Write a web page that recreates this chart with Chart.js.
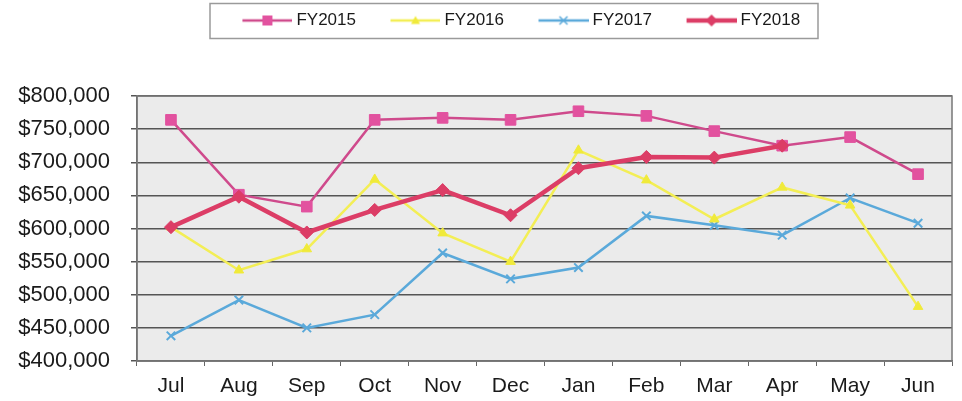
<!DOCTYPE html>
<html>
<head>
<meta charset="utf-8">
<script src="https://cdn.jsdelivr.net/npm/chart.js@4/dist/chart.umd.min.js"></script>
<style>
  html, body { margin: 0; padding: 0; background: #ffffff; }
  #wrap { width: 962px; height: 401px; position: relative; }
</style>
</head>
<body>
<div id="wrap"><canvas id="c" width="962" height="401"></canvas></div>
<script>
const months = ['Jul','Aug','Sep','Oct','Nov','Dec','Jan','Feb','Mar','Apr','May','Jun'];
const fy2015 = [764000, 651000, 633000, 764000, 767000, 764000, 777000, 770000, 747000, 725000, 738000, 682000];
const fy2016 = [602000, 537000, 569000, 674000, 593000, 550000, 718000, 673000, 614000, 662000, 635000, 482000];
const fy2017 = [438000, 492000, 450000, 470000, 563000, 524000, 541000, 619000, 605000, 590000, 646000, 608000];
const fy2018 = [602000, 648000, 594000, 628000, 658000, 620000, 691000, 708000, 707000, 725000, null, null];
const yMin = 400000, yMax = 800000, yStep = 50000;

const FONT = '"Liberation Sans", Arial, sans-serif';

function legendIcon(color, lineW, marker, fill) {
  const W = 77, H = 16;
  const cv = document.createElement('canvas');
  cv.width = W; cv.height = H;
  const g = cv.getContext('2d');
  const x0 = W - 50, cx = W - 25, cy = H / 2;
  g.strokeStyle = color; g.lineWidth = lineW;
  g.beginPath(); g.moveTo(x0, cy); g.lineTo(W, cy); g.stroke();
  g.fillStyle = fill; g.strokeStyle = color; g.lineWidth = 1.5;
  g.beginPath();
  if (marker === 'rect') { g.rect(cx - 5, cy - 5, 10, 10); g.fill(); }
  else if (marker === 'triangle') { g.moveTo(cx, cy - 4.5); g.lineTo(cx + 4.5, cy + 3.5); g.lineTo(cx - 4.5, cy + 3.5); g.closePath(); g.fill(); }
  else if (marker === 'cross') { g.moveTo(cx - 4, cy - 4); g.lineTo(cx + 4, cy + 4); g.moveTo(cx + 4, cy - 4); g.lineTo(cx - 4, cy + 4); g.stroke(); }
  else if (marker === 'diamond') { g.moveTo(cx, cy - 6); g.lineTo(cx + 6, cy); g.lineTo(cx, cy + 6); g.lineTo(cx - 6, cy); g.closePath(); g.fill(); }
  return cv;
}

const styles = [
  { label: 'FY2015', data: fy2015, color: '#cf4a8c', fill: '#e2529f', width: 2.5, pt: 'rect', r: 7.5, icon: 'rect', order: 1 },
  { label: 'FY2016', data: fy2016, color: '#f3ee55', fill: '#f0ea3a', width: 2.5, pt: 'triangle', r: 5.5, icon: 'triangle', order: 2 },
  { label: 'FY2017', data: fy2017, color: '#5aa9da', fill: '#5aa9da', width: 2.5, pt: 'crossRot', r: 6, icon: 'cross', order: 3 },
  { label: 'FY2018', data: fy2018, color: '#dc3d66', fill: '#dc3d66', width: 4.5, pt: 'rectRot', r: 6.5, icon: 'diamond', order: 0 }
];
const icons = styles.map(s => legendIcon(s.color, s.width, s.icon, s.fill));
const legendShift = 34;

const frame = {
  id: 'frame',
  beforeInit(chart) {
    const orig = chart.legend.fit;
    chart.legend.fit = function () { orig.call(this); this.height = 96; };
  },
  afterLayout(chart) {
    chart.legend.left += legendShift;
    chart.legend.right += legendShift;
  },
  beforeDraw(chart) {
    const a = chart.chartArea, ctx = chart.ctx;
    ctx.save();
    ctx.fillStyle = '#ebebeb';
    ctx.fillRect(a.left, a.top, a.right - a.left, a.bottom - a.top);
    ctx.restore();
  },
  afterDraw(chart) {
    const a = chart.chartArea, ctx = chart.ctx, lg = chart.legend;
    ctx.save();
    ctx.strokeStyle = '#777';
    ctx.lineWidth = 1.5;
    ctx.strokeRect(a.left, a.top, a.right - a.left, a.bottom - a.top);
    const cx = (lg.left + lg.right) / 2 + 4;
    ctx.strokeStyle = '#9a9a9a';
    ctx.lineWidth = 1.5;
    ctx.strokeRect(cx - 304, 3.5, 608, 35);
    ctx.restore();
  }
};

new Chart(document.getElementById('c'), {
  type: 'line',
  data: {
    labels: months,
    datasets: styles.map(s => ({
      label: s.label,
      data: s.data,
      borderColor: s.color,
      backgroundColor: s.fill,
      borderWidth: s.width,
      pointStyle: s.pt,
      pointRadius: s.r,
      pointBackgroundColor: s.fill,
      pointBorderColor: s.pt === 'crossRot' ? s.color : s.fill,
      pointBorderWidth: s.pt === 'crossRot' ? 2 : 1,
      tension: 0,
      fill: false,
      spanGaps: false,
      order: s.order
    }))
  },
  options: {
    responsive: false,
    animation: false,
    layout: { padding: { left: 0, right: 10, top: 0, bottom: 0 } },
    plugins: {
      tooltip: { enabled: false },
      legend: {
        display: true,
        position: 'top',
        align: 'center',
        labels: {
          usePointStyle: true,
          pointStyleWidth: 68,
          boxHeight: 17,
          padding: 12,
          color: '#1a1a1a',
          font: { family: FONT, size: 17 },
          generateLabels(chart) {
            const items = Chart.defaults.plugins.legend.labels.generateLabels(chart);
            items.forEach(it => { it.pointStyle = icons[it.datasetIndex]; });
            items.sort((a, b) => a.datasetIndex - b.datasetIndex);
            return items;
          }
        }
      }
    },
    scales: {
      x: {
        offset: true,
        grid: { display: true, drawOnChartArea: false, drawTicks: true, tickLength: 5, color: '#666', offset: true },
        border: { display: true, color: '#666', width: 1.5 },
        ticks: { color: '#1a1a1a', font: { family: FONT, size: 21 }, padding: 8, maxRotation: 0, autoSkip: false },
        afterFit(scale) { scale.height = 40; }
      },
      y: {
        min: yMin, max: yMax,
        grid: { color: '#555', lineWidth: 1.5, tickLength: 6, drawTicks: true },
        border: { display: true, color: '#666', width: 1.5 },
        ticks: {
          stepSize: yStep,
          color: '#1a1a1a',
          padding: 21,
          font: { family: FONT, size: 22 },
          callback: v => '$' + v.toLocaleString('en-US')
        },
        afterFit(scale) { scale.width = 137; }
      }
    }
  },
  plugins: [frame]
});
</script>
</body>
</html>
